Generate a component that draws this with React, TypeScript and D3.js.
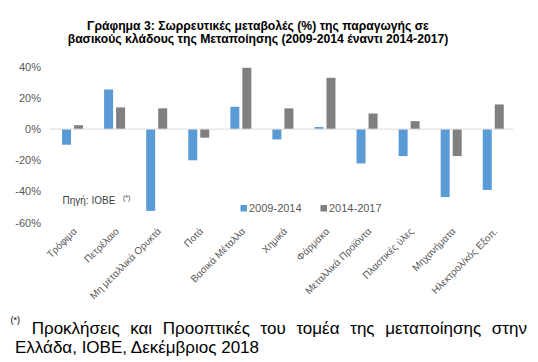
import React, { useEffect, useRef, useState } from "react";
import * as d3 from "d3";

const categories = [
  "Τρόφιμα",
  "Πετρέλαιο",
  "Μη μεταλλικά Ορυκτά",
  "Ποτά",
  "Βασικά Μέταλλα",
  "Χημικά",
  "Φάρμακα",
  "Μεταλλικά Προϊόντα",
  "Πλαστικές ύλες",
  "Μηχανήματα",
  "Ηλεκτρολ/κός Εξοπ.",
];
const series2009_2014 = [-10, 25.4, -52.4, -20, 14.3, -6.6, 1.3, -22, -17.3, -43.6, -39];
const series2014_2017 = [2.5, 13.9, 13.3, -5.5, 39.3, 13.3, 32.9, 10, 5.1, -17.3, 15.8];
const seriesNames = ["2009-2014", "2014-2017"];
const yTicks = [40, 20, 0, -20, -40, -60];

const BLUE = "#5B9BD5";
const GREY = "#808080";
const FONT = "'Liberation Sans', Arial, sans-serif";

const FOOT1 = "Προκλήσεις και Προοπτικές του τομέα της μεταποίησης στην";
const FOOT2 = "Ελλάδα, ΙΟΒΕ, Δεκέμβριος 2018";

export default function App() {
  const W = 538;
  const H = 362;
  const x = d3.scaleBand<string>().domain(categories).range([51.5, 514.3]).paddingInner(0).paddingOuter(0);
  const y = d3.scaleLinear().domain([-60, 40]).range([222.7, 66.7]);
  const barW = 9;
  const gap = 3;
  const series = [series2009_2014, series2014_2017];
  const colors = [BLUE, GREY];

  const footRef = useRef<SVGTextElement>(null);
  const [wordSp, setWordSp] = useState(0);
  const foot1X = 31.7;
  const foot1End = 527;
  useEffect(() => {
    if (footRef.current) {
      const len = footRef.current.getComputedTextLength();
      const gaps = FOOT1.split(" ").length - 1;
      setWordSp(Math.max(0, (foot1End - foot1X - len) / gaps));
    }
  }, []);

  return (
    <svg width={W} height={H} style={{ position: "absolute", left: 0, top: 0, background: "#fff" }} fontFamily={FONT}>
      <rect x={0} y={0} width={W} height={H} fill="#fff" />
      {/* Title */}
      <text x={258} y={30} textAnchor="middle" fontSize={12.2} fontWeight="bold" fill="#000">
        Γράφημα 3: Σωρρευτικές μεταβολές (%) της παραγωγής σε
      </text>
      <text x={258} y={43} textAnchor="middle" fontSize={12.2} fontWeight="bold" fill="#000">
        βασικούς κλάδους της Μεταποίησης (2009-2014 έναντι 2014-2017)
      </text>

      {/* Y tick labels */}
      {yTicks.map((t) => (
        <text key={t} x={41} y={y(t)} dy="0.35em" textAnchor="end" fontSize={11} fill="#595959">
          {`${t}%`}
        </text>
      ))}

      {/* Bars */}
      {series.map((vals, si) =>
        vals.map((v, i) => {
          const c = x(categories[i])! + x.bandwidth() / 2;
          const bx = si === 0 ? c - gap / 2 - barW : c + gap / 2;
          return (
            <rect
              key={`${si}-${i}`}
              x={bx}
              y={Math.min(y(v), y(0))}
              width={barW}
              height={Math.abs(y(v) - y(0))}
              fill={colors[si]}
            />
          );
        })
      )}

      {/* Zero line */}
      <line x1={50} x2={513} y1={y(0)} y2={y(0)} stroke="#d9d9d9" strokeWidth={1} />

      {/* X labels */}
      {categories.map((cat) => {
        const c = x(cat)! + x.bandwidth() / 2;
        return (
          <text
            key={cat}
            transform={`translate(${c + 5},${232}) rotate(-45)`}
            textAnchor="end"
            fontSize={10}
            fill="#595959"
          >
            {cat}
          </text>
        );
      })}

      {/* Source */}
      <text x={62.5} y={203.5} fontSize={10} fill="#404040">
        Πηγή: ΙΟΒΕ
      </text>
      <text x={123} y={200} fontSize={7} fill="#404040">
        (*)
      </text>

      {/* Legend */}
      <rect x={240.5} y={205} width={6.5} height={6.5} fill={BLUE} />
      <text x={249} y={212} fontSize={11} fill="#595959">{seriesNames[0]}</text>
      <rect x={320.5} y={205} width={6.5} height={6.5} fill={GREY} />
      <text x={329} y={212} fontSize={11} fill="#595959">{seriesNames[1]}</text>

      {/* Footnote */}
      <text x={10.5} y={323} fontSize={9} fill="#000">(*)</text>
      <text ref={footRef} x={foot1X} y={333.5} fontSize={17} fill="#000" style={{ wordSpacing: `${wordSp}px` }}>
        {FOOT1}
      </text>
      <text x={15} y={352.5} fontSize={17} fill="#000">
        {FOOT2}
      </text>
    </svg>
  );
}
